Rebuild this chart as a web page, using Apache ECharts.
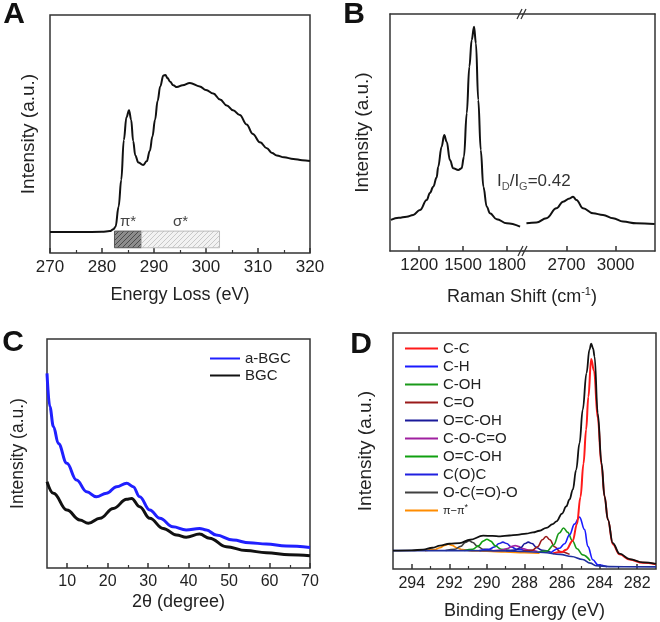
<!DOCTYPE html>
<html><head><meta charset="utf-8">
<script src="https://cdn.jsdelivr.net/npm/echarts@6/dist/echarts.min.js"></script>
<style>html,body{margin:0;padding:0;background:#fff}#c{width:660px;height:622px}</style>
</head><body><div id="c"></div>
<script>
// ---------- DATA ----------
// Panel A: EELS
const eelsA = [[270,8.8],[276,8.8],[280,8.9],[281.5,9.2],[282.2,10],[282.6,11],[283.2,19.5],[283.7,30.7],[284.2,47.5],[284.7,57],[285.2,60],[285.6,56],[286.0,47],[286.4,41],[287.0,38],[287.9,37],[288.6,38.5],[289.2,43],[289.7,49],[290.2,56],[290.7,64],[291.2,70],[291.8,74.6],[292.2,74.8],[292.6,73.5],[293.1,72],[293.7,70.5],[294.4,69.7],[295.5,70.5],[296.9,71.4],[298.8,70],[300,68.5],[301.4,67],[302.7,64.5],[304,62],[305.2,60],[306.5,58],[307.8,54],[309,50],[310.4,46.5],[311.7,44],[312.7,42],[313.6,41],[315,40.2],[316.8,39.5],[318.5,39],[320,38.7]];
const piRange = [282.4, 287.6];
const sigmaRange = [287.6, 302.6];
const boxRange = [2.2, 9.2];
// Panel B: Raman
const ramanLeft = [[1006,13.1],[1060,14],[1114,14.5],[1159,15.2],[1205,17.3],[1251,21.5],[1273,24.5],[1296,27.1],[1319,31],[1330,35.6],[1353,44],[1371,48.9],[1388,46.1],[1410,38.4],[1433,34.9],[1467,34.2],[1490,34.9],[1506,39.8],[1525,58.1],[1543,77.8],[1559,89],[1575,94.6],[1588,87.6],[1604,63.7],[1621,42.6],[1639,27.1],[1662,18.7],[1684,15.9],[1730,13.4],[1799,11.7],[1890,10.3]];
const ramanRight = [[2456,11.7],[2517,12],[2578,13.8],[2639,18],[2679,20.8],[2720,22.2],[2740,22.9],[2761,21.5],[2801,18],[2862,15.9],[2923,15.2],[2984,13.8],[3045,12.4],[3126,11.7],[3238,11.4]];
const ramanTicksLeft = [1200, 1500, 1800];
const ramanTicksRight = [2700, 3000];
// Panel C: XRD
const xrdABGC = [[5,85],[5.7,70.4],[6.6,61.7],[7.8,54.4],[9.9,45.7],[12.3,38.4],[14.8,33.3],[17.2,31.1],[19.7,32.6],[22.2,35.5],[24.7,37],[26.3,35.5],[27.9,31.1],[30.4,25.3],[32.9,21.7],[36.1,18],[39.4,16.6],[42.7,17.3],[44.4,16.6],[46.8,14.4],[51,12.2],[55,11],[59.2,10.5],[64.1,9.6],[70,9]];
const xrdBGC = [[5,37.7],[6.6,32.6],[9.9,25.3],[13.1,21],[15.2,19.5],[18.1,21.7],[21.4,26],[24.7,30],[25.9,30.4],[27.9,26.8],[30.4,21.7],[33.7,17.3],[37,14.4],[39.4,13.4],[42.7,14.8],[45.2,13],[49.3,9.3],[54.2,7.6],[59.2,6.7],[64.9,5.8],[70,5.4]];
const xrdMajor = [10,20,30,40,50,60,70];
const xrdMinor = [15,25,35,45,55,65];
// Panel D: XPS C1s
const xpsEnvelope = [[295,7.8],[294,7.9],[293.4,8.2],[292.9,9.0],[292.5,9.9],[292,10.7],[291.45,11.0],[290.9,12.4],[290.2,14.1],[289.7,14.0],[289.3,13.8],[288.8,14.2],[288.4,14.5],[287.9,15.0],[287.55,15.5],[287.2,16.2],[286.84,17.4],[286.5,19],[286.3,20.2],[286.0,23.5],[285.78,26.5],[285.6,29.5],[285.43,33.6],[285.25,42],[285.07,53.4],[284.9,67.5],[284.7,83],[284.54,93],[284.45,95.5],[284.35,93.5],[284.27,90],[284.1,66],[283.9,45],[283.74,30.8],[283.56,20.9],[283.3,11],[282.94,6.5],[282.4,4.2],[281.7,2.8],[281,2.2]];
const xpsBackground = [[295,7.8],[291,7.8],[289,7.7],[288,7.4],[287,7.0],[286.1,6.2],[285.5,5.3],[284.9,4.0],[284.5,2.5],[284.2,1.4],[283.5,1.0],[281,0.9]];
const pkCC = [[286.5,6.6],[286.0,7.2],[285.78,8.2],[285.43,12],[285.21,19],[285.02,30.5],[284.86,44.6],[284.72,59],[284.6,73],[284.45,89],[284.3,84],[284.1,64],[283.9,44],[283.74,30.8],[283.56,20.9],[283.3,10.5],[282.94,6.2],[282.4,4.0],[281.7,2.6],[281,2.0]];
const pkCH = [[286.6,6.8],[286.14,8.8],[285.87,10.7],[285.6,14.5],[285.34,19],[285.07,22],[284.8,16.7],[284.63,9.6],[284.36,3.9],[284.1,1.8],[283.6,1.0]];
const pkCOH = [[287.3,7.1],[286.8,7.6],[286.45,10.2],[286.15,15.2],[285.92,17.4],[285.7,15.5],[285.45,12.0],[285.2,8.6],[284.9,6.0],[284.5,3.5]];
const pkCdO = [[288.1,7.5],[287.6,7.9],[287.3,9.4],[287.05,12.4],[286.85,13.8],[286.65,12.4],[286.4,9.4],[286.1,7.4],[285.6,6.2]];
const pkOCOH1 = [[289.0,7.7],[288.5,8.0],[288.2,9.0],[287.98,10.8],[287.8,11.4],[287.6,10.8],[287.35,9.0],[287.05,7.9],[286.6,7.1]];
const pkCOCO = [[289.7,7.7],[289.2,8.0],[288.9,8.7],[288.7,9.5],[288.5,9.9],[288.3,9.5],[288.1,8.7],[287.8,8.0],[287.3,7.4]];
const pkOCOH2 = [[291.2,7.8],[290.75,8.4],[290.45,9.8],[290.2,11.8],[290.0,12.6],[289.8,11.8],[289.55,9.8],[289.25,8.4],[288.8,7.8]];
const pkCOC = [[290.4,7.8],[289.9,8.3],[289.6,9.3],[289.35,10.8],[289.15,11.4],[288.95,10.8],[288.7,9.3],[288.4,8.3],[287.9,7.7]];
const pkOCOO = [[292.2,7.8],[291.7,8.4],[291.4,9.6],[291.15,11.2],[290.95,12.0],[290.75,11.2],[290.5,9.6],[290.2,8.4],[289.7,7.8]];
const pkPi = [[293.3,7.8],[292.8,8.2],[292.5,9.0],[292.25,10.0],[292.05,10.5],[291.85,10.0],[291.6,9.0],[291.3,8.2],[290.8,7.7],[290,7.5],[289,7.2],[288,6.9],[287.2,6.7]];
const xpsMajor = [282,284,286,288,290,292,294];
const xpsMinor = [283,285,287,289,291,293];
const xpsNames = ['C-C','C-H','C-OH','C=O','O=C-OH','C-O-C=O','O=C-OH ','C(O)C','O-C(=O)-O','π−π*'];

// ---------- STYLE ----------
const F = '"Liberation Sans", Arial, sans-serif';
const TXT = '#222';
const AX = '#333';

function hatch(bg, fg) {
  const c = document.createElement('canvas');
  c.width = c.height = 5;
  const g = c.getContext('2d');
  g.fillStyle = bg; g.fillRect(0, 0, 5, 5);
  g.strokeStyle = fg; g.lineWidth = 1;
  g.beginPath();
  g.moveTo(0, 5); g.lineTo(5, 0);
  g.moveTo(-2.5, 2.5); g.lineTo(2.5, -2.5);
  g.moveTo(2.5, 7.5); g.lineTo(7.5, 2.5);
  g.stroke();
  return c;
}
const hatchDark = hatch('#8c8c8c', '#4a4a4a');
const hatchLight = hatch('#f2f2f2', '#c8c8c8');

const chart = echarts.init(document.getElementById('c'), null, {renderer: 'canvas'});

const gridBorder = {show: true, borderColor: AX, borderWidth: 1.5, backgroundColor: 'transparent'};
function yAx(grid, nameGap, nameSize, extra) {
  return Object.assign({
    gridIndex: grid, type: 'value', min: 0, max: 100,
    axisLine: {show: false}, axisTick: {show: false}, axisLabel: {show: false}, splitLine: {show: false},
    name: 'Intensity (a.u.)', nameLocation: 'middle', nameGap: nameGap,
    nameTextStyle: {fontSize: nameSize, color: TXT, fontFamily: F}
  }, extra || {});
}
const tickStyle = {lineStyle: {color: AX, width: 1.5}};
const plain = function (v) { return String(v); };

function lineS(name, data, color, xi, yi, width) {
  return {
    type: 'line', name: name, data: data, xAxisIndex: xi, yAxisIndex: yi,
    symbol: 'none', smooth: 0.4, smoothMonotone: 'x',
    lineStyle: {color: color, width: width || 1.5}, itemStyle: {color: color},
    silent: true
  };
}

const xpsColors = ['#ff1a1a','#1a1aff','#1a9a1a','#9a1a1a','#1a1a9a','#a020a0','#10a010','#2020e0','#404040','#ff8c00'];
const xpsWidths = [2, 1.6, 1.6, 1.6, 1.6, 1.6, 1.6, 1.6, 1.6, 1.6];
const xpsData = [pkCC, pkCH, pkCOH, pkCdO, pkOCOH1, pkCOCO, pkOCOH2, pkCOC, pkOCOO, pkPi];

const option = {
  animation: false,
  backgroundColor: '#fff',
  textStyle: {fontFamily: F},
  grid: [
    Object.assign({left: 50, top: 15, width: 260, height: 238}, gridBorder),   // A
    {left: 390, top: 14, width: 133, height: 237},                            // B left
    {left: 523, top: 14, width: 132, height: 237},                            // B right
    Object.assign({left: 47, top: 339, width: 263, height: 229}, gridBorder),  // C
    Object.assign({left: 393, top: 333, width: 263, height: 236}, gridBorder)  // D
  ],
  xAxis: [
    // 0: A
    {gridIndex: 0, type: 'value', min: 270, max: 320, interval: 10,
     axisLine: {show: false}, splitLine: {show: false},
     axisTick: Object.assign({inside: true, length: 5}, tickStyle),
     minorTick: {show: true, splitNumber: 2, length: 3, lineStyle: {color: AX, width: 1.2}},
     axisLabel: {fontSize: 17, color: TXT, margin: 6, fontFamily: F, formatter: plain},
     name: 'Energy Loss (eV)', nameLocation: 'middle', nameGap: 33,
     nameTextStyle: {fontSize: 18, color: TXT, fontFamily: F}},
    // 1: B left bottom
    {gridIndex: 1, type: 'value', min: 1000, max: 1910, position: 'bottom',
     axisLine: {show: true, lineStyle: {color: AX, width: 1.5}}, splitLine: {show: false},
     axisTick: Object.assign({inside: true, length: 5, customValues: ramanTicksLeft}, tickStyle),
     axisLabel: {fontSize: 17, color: TXT, margin: 6, fontFamily: F, customValues: ramanTicksLeft, formatter: plain}},
    // 2: B left top
    {gridIndex: 1, type: 'value', min: 1000, max: 1910, position: 'top',
     axisLine: {show: true, lineStyle: {color: AX, width: 1.5}}, splitLine: {show: false},
     axisTick: {show: false}, axisLabel: {show: false}},
    // 3: B right bottom
    {gridIndex: 2, type: 'value', min: 2435, max: 3240, position: 'bottom',
     axisLine: {show: true, lineStyle: {color: AX, width: 1.5}}, splitLine: {show: false},
     axisTick: Object.assign({inside: true, length: 5, customValues: ramanTicksRight}, tickStyle),
     axisLabel: {fontSize: 17, color: TXT, margin: 6, fontFamily: F, customValues: ramanTicksRight, formatter: plain}},
    // 4: B right top
    {gridIndex: 2, type: 'value', min: 2435, max: 3240, position: 'top',
     axisLine: {show: true, lineStyle: {color: AX, width: 1.5}}, splitLine: {show: false},
     axisTick: {show: false}, axisLabel: {show: false}},
    // 5: C major
    {gridIndex: 3, type: 'value', min: 5, max: 70, position: 'bottom',
     axisLine: {show: false}, splitLine: {show: false},
     axisTick: Object.assign({inside: true, length: 5, customValues: xrdMajor}, tickStyle),
     axisLabel: {fontSize: 16, color: TXT, margin: 6, fontFamily: F, customValues: xrdMajor, formatter: plain},
     name: '2θ (degree)', nameLocation: 'middle', nameGap: 25,
     nameTextStyle: {fontSize: 18, color: TXT, fontFamily: F}},
    // 6: C minor
    {gridIndex: 3, type: 'value', min: 5, max: 70, position: 'bottom', offset: 0,
     axisLine: {show: false}, splitLine: {show: false},
     axisTick: {inside: true, length: 3, customValues: xrdMinor, lineStyle: {color: AX, width: 1.2}},
     axisLabel: {show: false}},
    // 7: D major
    {gridIndex: 4, type: 'value', min: 281, max: 295, inverse: true, position: 'bottom',
     axisLine: {show: false}, splitLine: {show: false},
     axisTick: Object.assign({inside: true, length: 5, customValues: xpsMajor}, tickStyle),
     axisLabel: {fontSize: 16, color: TXT, margin: 7, fontFamily: F, customValues: xpsMajor, formatter: plain},
     name: 'Binding Energy (eV)', nameLocation: 'middle', nameGap: 33,
     nameTextStyle: {fontSize: 18, color: TXT, fontFamily: F}},
    // 8: D minor
    {gridIndex: 4, type: 'value', min: 281, max: 295, inverse: true, position: 'bottom', offset: 0,
     axisLine: {show: false}, splitLine: {show: false},
     axisTick: {inside: true, length: 3, customValues: xpsMinor, lineStyle: {color: AX, width: 1.2}},
     axisLabel: {show: false}}
  ],
  yAxis: [
    yAx(0, 12, 19),
    yAx(1, 18, 19, {axisLine: {show: true, lineStyle: {color: AX, width: 1.5}}}),
    yAx(2, 0, 19, {name: '', position: 'right', axisLine: {show: true, lineStyle: {color: AX, width: 1.5}}}),
    yAx(3, 20, 17.5),
    yAx(4, 18, 19)
  ],
  legend: [
    {data: ['a-BGC', 'BGC'], left: 210, top: 351, orient: 'vertical', padding: 0,
     icon: 'rect', itemWidth: 30, itemHeight: 2, itemGap: 2, selectedMode: false,
     textStyle: {fontSize: 15, lineHeight: 15, color: TXT, fontFamily: F}},
    {data: xpsNames, left: 405, top: 341, orient: 'vertical', padding: 0,
     icon: 'rect', itemWidth: 33, itemHeight: 2, itemGap: 3, selectedMode: false,
     formatter: function (n) { return n === 'π−π*' ? '{p|π−π}{q|*}' : n; },
     textStyle: {fontSize: 15, lineHeight: 15, color: TXT, fontFamily: F,
       rich: {p: {fontSize: 11, color: TXT, fontFamily: F}, q: {fontSize: 9, color: TXT, verticalAlign: 'top', fontFamily: F}}}}
  ],
  series: [
    Object.assign(lineS('EELS', eelsA, '#111', 0, 0, 2), {
      z: 5,
      markArea: {
        silent: true, z: 1,
        label: {show: true, position: 'top', distance: 1, fontSize: 15, color: '#444', fontFamily: F},
        data: [
          [{name: 'π*', xAxis: piRange[0], yAxis: boxRange[0],
            itemStyle: {color: {image: hatchDark, repeat: 'repeat'}, borderColor: '#555', borderWidth: 1, opacity: 1}},
           {xAxis: piRange[1], yAxis: boxRange[1]}],
          [{name: 'σ*', xAxis: sigmaRange[0], yAxis: boxRange[0],
            itemStyle: {color: {image: hatchLight, repeat: 'repeat'}, borderColor: '#bbb', borderWidth: 1, opacity: 1}},
           {xAxis: sigmaRange[1], yAxis: boxRange[1]}]
        ]
      }
    }),
    lineS('RamanL', ramanLeft, '#111', 1, 1, 2),
    lineS('RamanR', ramanRight, '#111', 3, 2, 2),
    lineS('a-BGC', xrdABGC, '#2020ff', 5, 3, 3),
    lineS('BGC', xrdBGC, '#111', 5, 3, 3)
  ].concat(
    xpsData.slice().reverse().map(function (d, i) {
      const k = xpsData.length - 1 - i;
      return lineS(xpsNames[k], d, xpsColors[k], 7, 4, xpsWidths[k]);
    }),
    [lineS('background', xpsBackground, '#1f2f9f', 7, 4, 1.6),
     lineS('envelope', xpsEnvelope, '#111', 7, 4, 1.8)]
  ),
  graphic: [
    {type: 'text', x: 14, y: 15, style: {text: 'A', font: 'bold 30px ' + F, fill: '#111', textAlign: 'center', textVerticalAlign: 'middle'}},
    {type: 'text', x: 354, y: 15, style: {text: 'B', font: 'bold 30px ' + F, fill: '#111', textAlign: 'center', textVerticalAlign: 'middle'}},
    {type: 'text', x: 13, y: 343, style: {text: 'C', font: 'bold 30px ' + F, fill: '#111', textAlign: 'center', textVerticalAlign: 'middle'}},
    {type: 'text', x: 361, y: 345, style: {text: 'D', font: 'bold 30px ' + F, fill: '#111', textAlign: 'center', textVerticalAlign: 'middle'}},
    {type: 'text', x: 522, y: 297, style: {
      text: '{n|Raman Shift (cm}{s|-1}{n|)}', textAlign: 'center', textVerticalAlign: 'middle',
      rich: {n: {fontSize: 18, fontFamily: F, fill: TXT, lineHeight: 22}, s: {fontSize: 11, fontFamily: F, fill: TXT, verticalAlign: 'top', lineHeight: 22}}}},
    {type: 'text', x: 497, y: 181, style: {
      text: '{n|I}{s|D}{n|/I}{s|G}{n|=0.42}', textAlign: 'left', textVerticalAlign: 'middle',
      rich: {n: {fontSize: 17, fontFamily: F, fill: '#333', lineHeight: 22}, s: {fontSize: 11, fontFamily: F, fill: '#555', verticalAlign: 'bottom', lineHeight: 22}}}},
    {type: 'line', shape: {x1: 517, y1: 19, x2: 522, y2: 9}, style: {stroke: AX, lineWidth: 1.2}},
    {type: 'line', shape: {x1: 521, y1: 19, x2: 526, y2: 9}, style: {stroke: AX, lineWidth: 1.2}},
    {type: 'line', shape: {x1: 518, y1: 256, x2: 523, y2: 246}, style: {stroke: AX, lineWidth: 1.2}},
    {type: 'line', shape: {x1: 522, y1: 256, x2: 527, y2: 246}, style: {stroke: AX, lineWidth: 1.2}}
  ]
};
chart.setOption(option);
</script>
</body></html>
